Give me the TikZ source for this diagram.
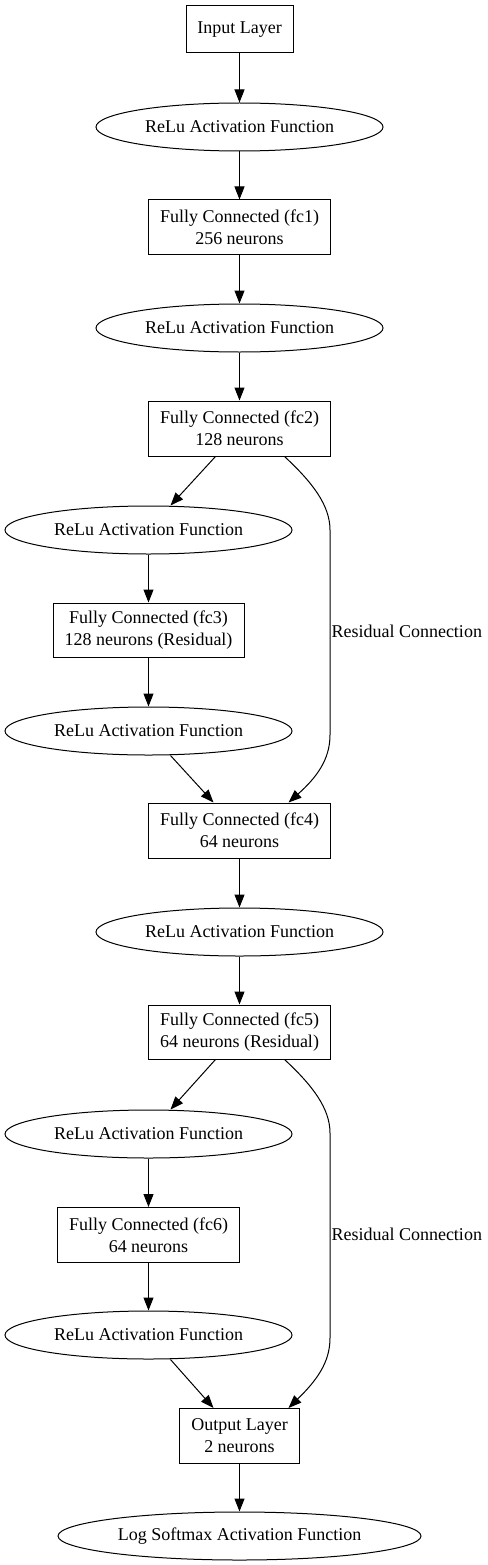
\documentclass[tikz,border=0pt]{standalone}
\usepackage{fontspec}
\setmainfont{Liberation Serif}
\usetikzlibrary{shapes.geometric,arrows.meta}
\begin{document}
\begin{tikzpicture}[x=1pt,y=-1pt,
  every node/.style={font=\fontsize{18}{22}\selectfont, align=center, inner sep=0pt, line width=1pt},
  boxnode/.style={draw, rectangle},
  ellnode/.style={draw, ellipse, minimum width=287pt, minimum height=48pt},
  arr/.style={-{Triangle[length=13pt,width=10pt]}, line width=1pt},
  lbl/.style={anchor=west}]
\useasboundingbox (0,0) rectangle (487,1565);

\node[boxnode, minimum width=107pt, minimum height=47pt] (in) at (239.5,29.5) {Input Layer};
\node[ellnode] (r1) at (239.5,127) {ReLu Activation Function};
\node[boxnode, minimum width=182pt, minimum height=54pt] (fc1) at (239.5,227) {Fully Connected (fc1)\\256 neurons};
\node[ellnode] (r2) at (239.5,328) {ReLu Activation Function};
\node[boxnode, minimum width=182pt, minimum height=55pt] (fc2) at (239.5,428.5) {Fully Connected (fc2)\\128 neurons};
\node[ellnode] (r3) at (148.5,530) {ReLu Activation Function};
\node[boxnode, minimum width=191pt, minimum height=54pt] (fc3) at (148.5,630) {Fully Connected (fc3)\\128 neurons (Residual)};
\node[ellnode] (r4) at (148.5,731) {ReLu Activation Function};
\node[boxnode, minimum width=182pt, minimum height=55pt] (fc4) at (239.5,830.5) {Fully Connected (fc4)\\64 neurons};
\node[ellnode] (r5) at (239.5,932) {ReLu Activation Function};
\node[boxnode, minimum width=182pt, minimum height=54pt] (fc5) at (239.5,1032) {Fully Connected (fc5)\\64 neurons (Residual)};
\node[ellnode] (r6) at (148.5,1134) {ReLu Activation Function};
\node[boxnode, minimum width=182pt, minimum height=55pt] (fc6) at (148.5,1235) {Fully Connected (fc6)\\64 neurons};
\node[ellnode] (r7) at (148.5,1335) {ReLu Activation Function};
\node[boxnode, minimum width=120pt, minimum height=55pt] (out) at (239.5,1436) {Output Layer\\2 neurons};
\node[ellnode, minimum width=363pt] (ls) at (239.5,1536) {Log Softmax Activation Function};

\node[lbl] (lab1) at (331,631) {Residual Connection};
\node[lbl] (lab2) at (331,1234) {Residual Connection};

\draw[arr] (in) -- (r1);
\draw[arr] (r1) -- (fc1);
\draw[arr] (fc1) -- (r2);
\draw[arr] (r2) -- (fc2);
\draw[arr] ([xshift=-24pt]fc2.south) -- ([xshift=22pt]r3.north);
\draw[arr] (r3) -- (fc3);
\draw[arr] (fc3) -- (r4);
\draw[arr] ([xshift=22pt]r4.south) -- ([xshift=-26pt]fc4.north);
\draw[arr] ([xshift=45pt]fc2.south) .. controls (312,482) and (330,505) .. (330,530) -- (330,735) .. controls (330,760) and (316,778) .. ([xshift=49pt]fc4.north);
\draw[arr] (fc4) -- (r5);
\draw[arr] (r5) -- (fc5);
\draw[arr] ([xshift=-24pt]fc5.south) -- ([xshift=22pt]r6.north);
\draw[arr] (r6) -- (fc6);
\draw[arr] (fc6) -- (r7);
\draw[arr] ([xshift=22pt]r7.south) -- ([xshift=-26pt]out.north);
\draw[arr] ([xshift=45pt]fc5.south) .. controls (312,1085) and (330,1108) .. (330,1133) -- (330,1338) .. controls (330,1363) and (316,1381) .. ([xshift=49pt]out.north);
\draw[arr] (out) -- (ls);
\end{tikzpicture}
\end{document}
